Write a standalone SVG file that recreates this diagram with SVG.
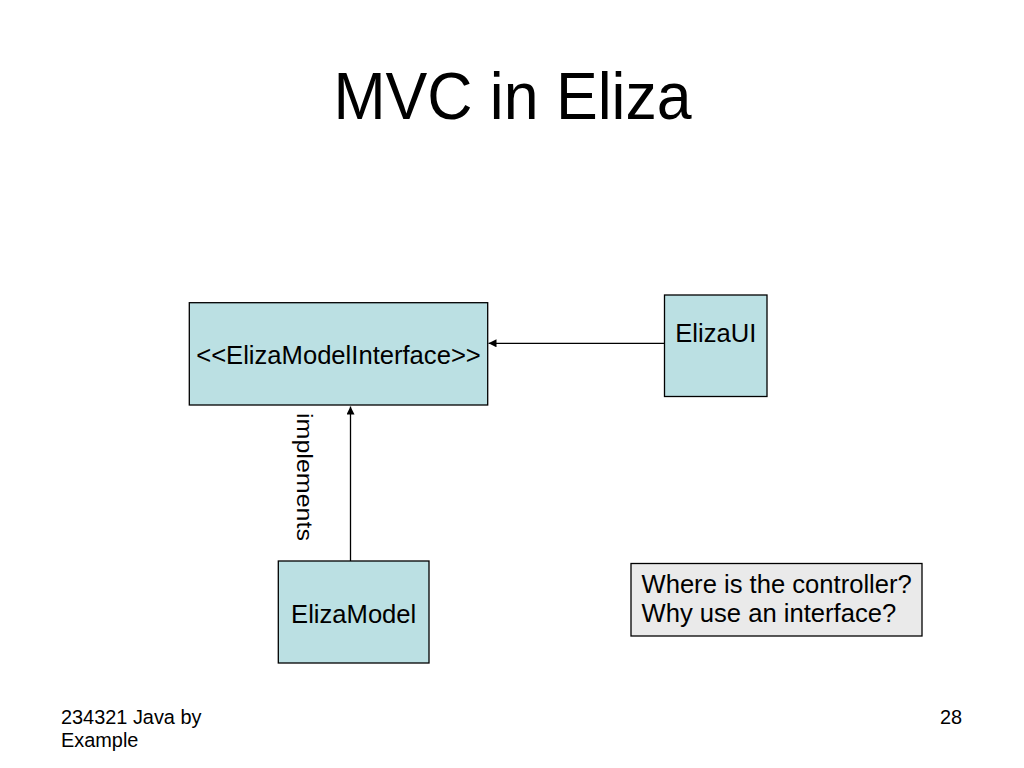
<svg xmlns="http://www.w3.org/2000/svg" width="1024" height="768" viewBox="0 0 1024 768">
<style>
text{font-family:"Liberation Sans",Arial,Helvetica,sans-serif;fill:#000}
.box{fill:#BBE0E3;stroke:#000;stroke-width:1.3}
.note{fill:#EAEAEA;stroke:#000;stroke-width:1.3}
.lbl{font-size:25.6px}
.ft{font-size:19.9px}
.conn{stroke:#000;stroke-width:1.3;fill:none}
</style>
<defs>
<marker id="arr" viewBox="0 0 10 10" refX="10" refY="5" markerWidth="8" markerHeight="8" markerUnits="userSpaceOnUse" orient="auto">
<path d="M0,0 L10,5 L0,10 Z" fill="#000"/>
</marker>
</defs>
<rect width="1024" height="768" fill="#fff"/>
<text transform="translate(512.5,119) scale(1,1.07)" x="0" y="0" text-anchor="middle" style="font-size:62.6px">MVC in Eliza</text>
<g id="connectors">
<line class="conn" x1="664" y1="343.3" x2="488.5" y2="343.3" marker-end="url(#arr)"/>
<line class="conn" x1="350.5" y1="561" x2="350.5" y2="406.5" marker-end="url(#arr)"/>
<text class="lbl" transform="translate(296.5,413) rotate(90)" style="font-size:21.5px" textLength="128" lengthAdjust="spacingAndGlyphs">implements</text>
</g>
<g id="interface">
<rect class="box" x="189.3" y="302.7" width="298.4" height="102.3"/>
<text class="lbl" x="338.5" y="364" text-anchor="middle">&lt;&lt;ElizaModelInterface&gt;&gt;</text>
</g>
<g id="elizaui">
<rect class="box" x="664.5" y="295" width="102.5" height="101.5"/>
<text class="lbl" x="715.8" y="342" text-anchor="middle">ElizaUI</text>
</g>
<g id="elizamodel">
<rect class="box" x="278.3" y="561" width="150.7" height="102"/>
<text class="lbl" x="353.7" y="622.7" text-anchor="middle">ElizaModel</text>
</g>
<g id="note">
<rect class="note" x="631" y="563.5" width="291" height="72.5"/>
<text class="lbl" x="641.5" y="592.5">Where is the controller?</text>
<text class="lbl" x="641.5" y="621.8">Why use an interface?</text>
</g>
<g id="footer">
<text class="ft" x="61" y="724">234321 Java by</text>
<text class="ft" x="61" y="747">Example</text>
<text class="ft" x="962" y="724" text-anchor="end">28</text>
</g>
</svg>
